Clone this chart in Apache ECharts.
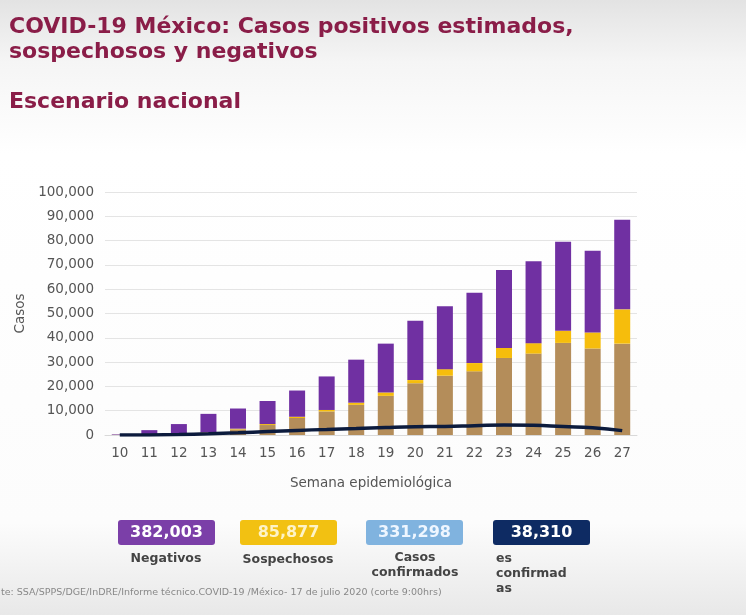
<!DOCTYPE html>
<html>
<head>
<meta charset="utf-8">
<script src="https://cdn.jsdelivr.net/npm/echarts@6/dist/echarts.min.js"></script>
<style>
html,body{margin:0;padding:0;background:#fff;}
#chart{width:746px;height:615px;}
</style>
</head>
<body>
<div id="chart"></div>
<script>
var weeks = ['10','11','12','13','14','15','16','17','18','19','20','21','22','23','24','25','26','27'];
var confirmados = [100,100,400,1000,2300,4100,7000,9700,12400,16100,21300,24400,26200,31700,33500,37900,35600,37600];
var sospechosos = [0,0,100,100,300,400,500,600,900,1400,1300,2700,3400,4100,4300,5000,6600,14100];
var negativos = [200,1900,4000,7600,8300,9500,10800,13800,17700,20100,24400,25900,28900,32100,33700,36600,33600,36900];
var defunciones = [0,50,200,500,900,1400,1900,2300,2700,3100,3400,3500,3800,4100,4000,3500,3000,1800];
var yTicks = [0,10000,20000,30000,40000,50000,60000,70000,80000,90000,100000];
var totalsValues = ['382,003','85,877','331,298','38,310'];
var totalsLabels = ['Negativos','Sospechosos','Casos\nconfirmados','es\nconfirmad\nas'];
var titleLines = ['COVID-19 México: Casos positivos estimados,','sospechosos y negativos','Escenario nacional'];
var footerText = 'te: SSA/SPPS/DGE/InDRE/Informe técnico.COVID-19 /México- 17 de julio 2020 (corte 9:00hrs)';

var cTan = '#b48d5a', cYellow = '#f6bd0c', cPurple = '#7030a2', cNavy = '#0c1b3d';
var boxColors = ['#7b3fa8', '#f2c112', '#80b3df', '#0e2b63'];
var boxTextColors = ['#ffffff', '#fdf3c8', '#eef6ff', '#ffffff'];

var chart = echarts.init(document.getElementById('chart'), null, {renderer:'canvas'});

var graphics = [];
var titleFont = 'bold 22px "DejaVu Sans"';
graphics.push({type:'text', left:9, top:16, style:{text:titleLines[0], font:titleFont, fill:'#8a1d48'}});
graphics.push({type:'text', left:9, top:41, style:{text:titleLines[1], font:titleFont, fill:'#8a1d48'}});
graphics.push({type:'text', left:9, top:91, style:{text:titleLines[2], font:titleFont, fill:'#8a1d48'}});

var boxX = [118, 240, 366, 493];
var boxW = 97, boxH = 25, boxY = 520;
for (var i = 0; i < 4; i++) {
  graphics.push({type:'rect', shape:{x:boxX[i], y:boxY, width:boxW, height:boxH, r:3}, style:{fill:boxColors[i]}});
  graphics.push({type:'text', x:boxX[i] + boxW/2, y:boxY + boxH/2, style:{text:totalsValues[i], font:'bold 16px "DejaVu Sans"', fill:boxTextColors[i], textAlign:'center', textVerticalAlign:'middle'}});
}
var lblFont = 'bold 12.5px "DejaVu Sans"';
graphics.push({type:'text', x:166, y:552, style:{text:totalsLabels[0], font:lblFont, fill:'#444', textAlign:'center'}});
graphics.push({type:'text', x:288, y:553, style:{text:totalsLabels[1], font:lblFont, fill:'#444', textAlign:'center'}});
graphics.push({type:'text', x:415, y:550, style:{text:totalsLabels[2], font:lblFont, fill:'#444', textAlign:'center', lineHeight:15}});
graphics.push({type:'text', x:496, y:551, style:{text:totalsLabels[3], font:lblFont, fill:'#444', textAlign:'left', lineHeight:15}});
graphics.push({type:'text', x:1, y:588, style:{text:footerText, font:'9.5px "DejaVu Sans"', fill:'#888'}});

var option = {
  animation:false,
  backgroundColor:{type:'linear', x:0, y:0, x2:0, y2:1, colorStops:[
    {offset:0, color:'#e3e3e3'}, {offset:0.1, color:'#f5f5f5'}, {offset:0.25, color:'#ffffff'},
    {offset:0.85, color:'#fcfcfc'}, {offset:1, color:'#e8e8e8'}]},
  grid:{left:105, right:746-637, top:192, bottom:615-435, containLabel:false},
  xAxis:{
    type:'category', data:weeks,
    axisLine:{show:true, lineStyle:{color:'#d9d9d9'}},
    axisTick:{show:false},
    axisLabel:{color:'#555', fontSize:13.5, fontFamily:'DejaVu Sans', margin:11},
    name:'Semana epidemiológica', nameLocation:'middle', nameGap:41,
    nameTextStyle:{color:'#555', fontSize:13.5, fontFamily:'DejaVu Sans'}
  },
  yAxis:{
    type:'value', min:yTicks[0], max:yTicks[yTicks.length-1], interval:yTicks[1]-yTicks[0],
    axisLine:{show:false}, axisTick:{show:false},
    splitLine:{lineStyle:{color:'#e4e4e4', width:1}},
    axisLabel:{color:'#555', fontSize:13.5, fontFamily:'DejaVu Sans', margin:11,
      formatter:function(v){return v.toLocaleString('en-US');}},
    name:'Casos', nameLocation:'middle', nameGap:77,
    nameTextStyle:{color:'#555', fontSize:13.5, fontFamily:'DejaVu Sans'}
  },
  series:[
    {name:'Confirmados', type:'bar', stack:'t', data:confirmados, barWidth:16, itemStyle:{color:cTan}},
    {name:'Sospechosos', type:'bar', stack:'t', data:sospechosos, barWidth:16, itemStyle:{color:cYellow}},
    {name:'Negativos', type:'bar', stack:'t', data:negativos, barWidth:16, itemStyle:{color:cPurple}},
    {name:'Defunciones', type:'line', data:defunciones, smooth:true, symbol:'none', z:5,
      lineStyle:{color:cNavy, width:3.5}}
  ],
  graphic:graphics
};
chart.setOption(option);
</script>
</body>
</html>
